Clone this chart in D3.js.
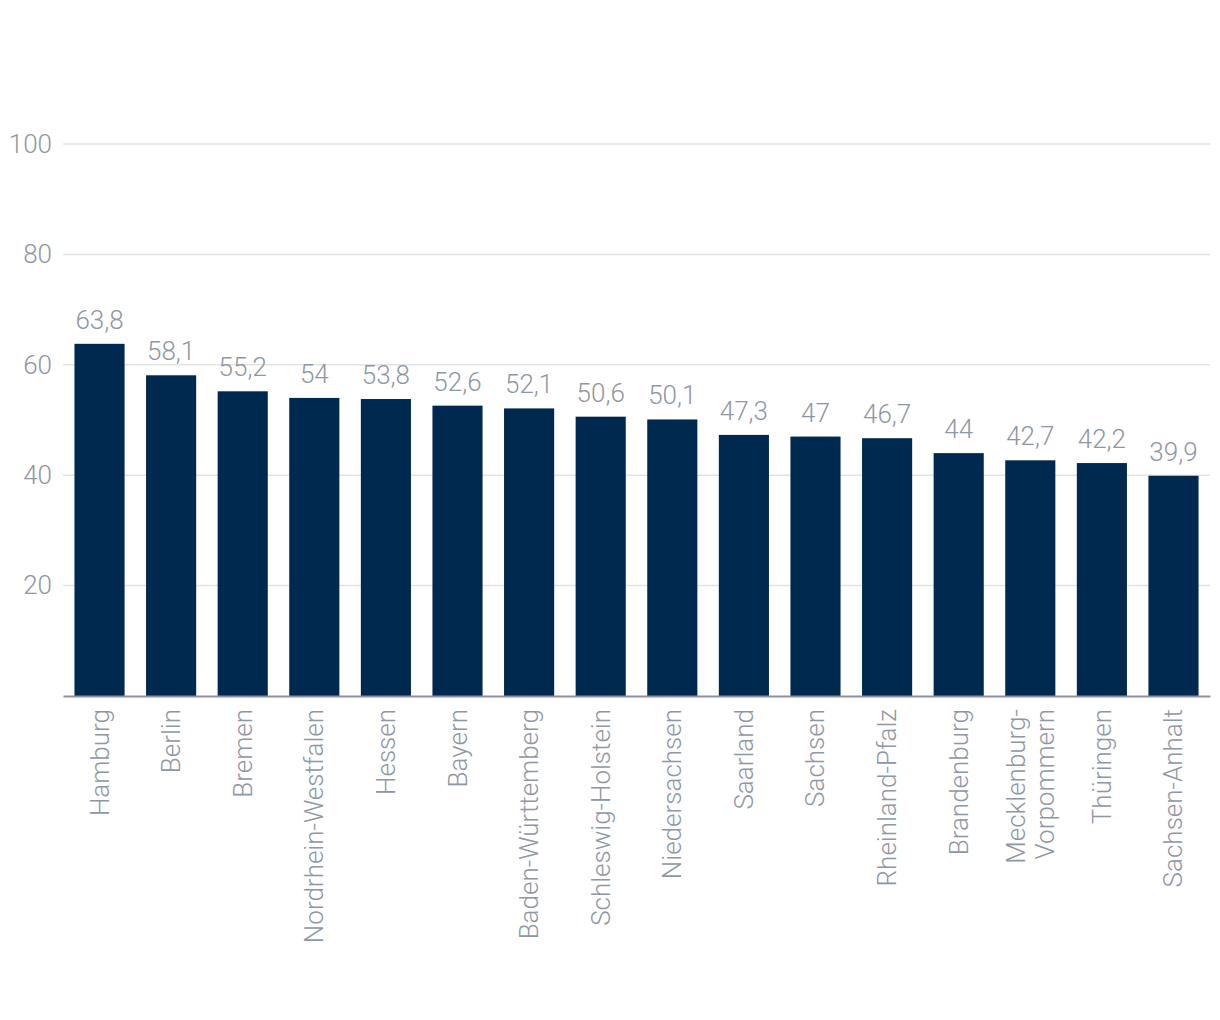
<!DOCTYPE html>
<html><head><meta charset="utf-8">
<script src="https://cdn.jsdelivr.net/npm/d3@7"></script>
<style>
html,body{margin:0;padding:0;background:#fff;}
text{font-family:Roboto,"Liberation Sans",sans-serif;font-weight:300;}
</style></head>
<body><svg id="c" width="1220" height="1020"></svg>
<script>
const categories = ["Hamburg","Berlin","Bremen","Nordrhein-Westfalen","Hessen","Bayern","Baden-Württemberg","Schleswig-Holstein","Niedersachsen","Saarland","Sachsen","Rheinland-Pfalz","Brandenburg","Mecklenburg-\nVorpommern","Thüringen","Sachsen-Anhalt"];
const values = [63.8,58.1,55.2,54,53.8,52.6,52.1,50.6,50.1,47.3,47,46.7,44,42.7,42.2,39.9];
const yTicks = [20,40,60,80,100];

const svg = d3.select("#c");
const pL = 63, pR = 1210, pT = 144, pB = 696;
const x = d3.scaleBand().domain(categories).range([pL,pR]).paddingInner(0.3).paddingOuter(0.16);
const y = d3.scaleLinear().domain([0,100]).range([pB,pT]);
const txt = "#8f97a3";
const fs = "26px";
const fmt = v => String(v).replace(".", ",");

// gridlines
svg.append("g").selectAll("line").data(yTicks).join("line")
  .attr("x1",pL).attr("x2",pR).attr("y1",d=>y(d)).attr("y2",d=>y(d))
  .attr("stroke","#e3e3e3").attr("stroke-width",1.5);

// y axis labels
const ya = svg.append("g").attr("transform",`translate(${pL},0)`)
  .call(d3.axisLeft(y).tickValues(yTicks).tickSize(0).tickPadding(11));
ya.select(".domain").remove();
ya.selectAll("text").attr("fill",txt).style("font-size",fs).style("font-family","Roboto,'Liberation Sans',sans-serif").style("font-weight",300);

// bars
svg.append("g").selectAll("rect").data(values).join("rect")
  .attr("x",(d,i)=>x(categories[i])).attr("width",x.bandwidth())
  .attr("y",d=>y(d)).attr("height",d=>y(0)-y(d)).attr("fill","#00294f");

// value labels
svg.append("g").selectAll("text").data(values).join("text")
  .attr("x",(d,i)=>x(categories[i])+x.bandwidth()/2).attr("y",d=>y(d)-15)
  .attr("text-anchor","middle").attr("fill",txt).style("font-size",fs)
  .text(d=>fmt(d));

// x axis
const xa = svg.append("g").attr("transform",`translate(0,${pB})`)
  .call(d3.axisBottom(x).tickSize(0).tickFormat(""));
xa.select(".domain").attr("stroke","#8c929c").attr("stroke-width",2);

// x labels rotated
const lg = svg.append("g");
categories.forEach((c,i)=>{
  const lines = c.split("\n");
  const cx = x(c)+x.bandwidth()/2;
  const n = lines.length;
  lines.forEach((l,j)=>{
    const off = (j-(n-1)/2)*29;
    lg.append("text")
      .attr("transform",`translate(${cx+off+9},${pB+13}) rotate(-90)`)
      .attr("text-anchor","end").attr("fill",txt).style("font-size",fs)
      .text(l);
  });
});
</script></body></html>
